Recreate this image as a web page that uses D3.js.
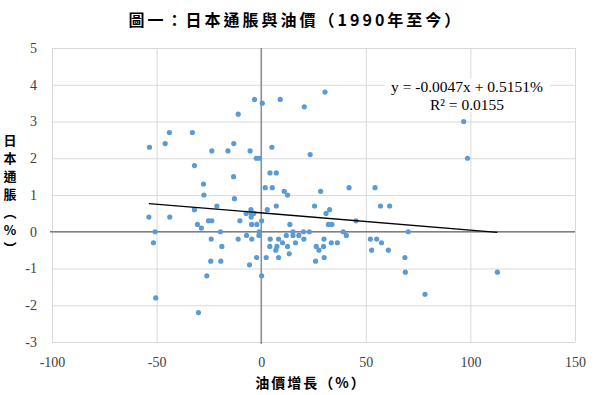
<!DOCTYPE html>
<html><head><meta charset="utf-8">
<script src="https://cdn.jsdelivr.net/npm/d3@7"></script>
<style>body{margin:0;background:#fff}svg{display:block}</style>
</head><body>
<script>
const title = "圖一：日本通脹與油價（1990年至今）";
const xLabel = "油價增長（%）";
const yLabelChars = ["日","本","通","脹","︵","%","︶"];
const xTicks = [-100, -50, 0, 50, 100, 150];
const yTicks = [-3, -2, -1, 0, 1, 2, 3, 4, 5];
const slope = -0.0047, intercept = 0.5151;
const eqText = "y = -0.0047x + 0.5151%";
const r2Text = "R² = 0.0155";
// oil price growth (%)
const oilGrowth = [-3.2,0.5,-11,-43.9,-32.9,-45.9,-13.1,-53.4,-23.6,-15.9,-5.3,-2.4,-0.8,-31.9,-13.2,4.2,-27.6,1.9,-27.4,-12.8,-21.2,
 9.1,20.6,30.5,5.1,23.4,7.2,5.3,11,12.6,28.4,42,54.4,7.2,25.5,57,61.4,96.8,98.6,
 -31.9,-4.9,-53.7,-43.7,2.9,-7.2,-4.8,-3.5,-4.8,-30.5,-25.2,-23.6,-10.2,-4.6,-2.1,0.2,-28.6,-50.7,-19.5,-1,-7,-1.1,-51.5,-23.9,-11,-4.5,4.3,-18.8,4.1,-2.2,2.4,-24.1,-19.3,-5.6,-26,0.2,-50.4,-30,
 32.7,31,13.7,32.1,33.8,45.3,15.2,20.2,23,12,15.2,18,20.4,39.2,40.7,8.3,10.2,16.4,30,33.5,36.4,52.2,55.2,57.5,7.5,12.6,26.3,29.8,7,27.6,52.8,60.8,13.4,8.3,30.1,26,
 70.3,68.7,68.9,112.9,78.3];
// Japan inflation (%)
const inflation = [3.6,3.5,3.2,2.7,2.7,2.4,2.4,2.3,2.2,2.2,2.2,2.0,2.0,1.8,1.5,1.6,1.3,1.2,1.0,0.9,0.7,
 3.6,3.4,3.8,2.3,2.1,1.6,1.2,1.1,1.0,1.1,1.2,1.2,0.7,0.7,0.7,0.7,3.0,2.0,
 0.6,0.6,0.4,0.4,0.6,0.5,0.5,0.5,0.4,0.2,0.3,0.3,0.3,0.2,0.2,0.3,0.1,0,0,0,-0.1,-0.1,-0.3,-0.2,-0.2,-0.2,-0.2,-0.4,-0.4,-0.7,-0.7,-0.8,-0.8,-0.9,-1.2,-1.2,-1.8,-2.2,
 0.6,0.5,0.2,0.2,0.2,0.3,0,0,0,-0.1,-0.1,-0.1,-0.2,0,-0.1,-0.2,-0.3,-0.3,-0.2,-0.3,-0.3,-0.2,-0.2,-0.3,-0.4,-0.4,-0.4,-0.4,-0.5,-0.5,-0.5,-0.5,-0.6,-0.7,-0.7,-0.8,
 0,-0.7,-1.1,-1.1,-1.7];

const W = 600, H = 395;
const L = 52, R = 575, T = 48, B = 342;
const svg = d3.select("body").append("svg").attr("width", W).attr("height", H);
const x = d3.scaleLinear().domain([-100, 150]).range([L, R]);
const y = d3.scaleLinear().domain([-3, 5]).range([B, T]);
const serif = "'Liberation Serif','Times New Roman',serif";
const cjk = "'Noto Sans CJK TC','Noto Sans CJK SC',sans-serif";
const fmt = d => String(d);

// gridlines
svg.append("g").attr("transform", `translate(0,${B})`)
  .call(d3.axisBottom(x).tickValues(xTicks).tickSize(-(B - T)).tickFormat(""))
  .call(g => { g.select(".domain").remove(); g.selectAll("line").attr("stroke", "#d9d9d9"); });
svg.append("g").attr("transform", `translate(${L},0)`)
  .call(d3.axisLeft(y).tickValues(yTicks).tickSize(-(R - L)).tickFormat(""))
  .call(g => { g.select(".domain").remove(); g.selectAll("line").attr("stroke", "#d9d9d9"); });

// zero axes
svg.append("line").attr("x1", L - 2).attr("x2", R).attr("y1", y(0)).attr("y2", y(0))
  .attr("stroke", "#808080").attr("stroke-width", 1.3);
svg.append("line").attr("x1", x(0)).attr("x2", x(0)).attr("y1", T).attr("y2", B + 2)
  .attr("stroke", "#808080").attr("stroke-width", 1.3);

// tick labels
svg.append("g").attr("transform", `translate(0,${B})`)
  .call(d3.axisBottom(x).tickValues(xTicks).tickSize(0).tickPadding(15).tickFormat(fmt))
  .call(g => { g.select(".domain").remove(); g.selectAll("text").attr("font-family", serif).attr("font-size", 14).attr("fill", "#404040"); });
svg.append("g").attr("transform", `translate(${L},0)`)
  .call(d3.axisLeft(y).tickValues(yTicks).tickSize(0).tickPadding(15).tickFormat(fmt))
  .call(g => { g.select(".domain").remove(); g.selectAll("text").attr("font-family", serif).attr("font-size", 14).attr("fill", "#404040"); });

// points
const pts = oilGrowth.map((v, i) => [v, inflation[i]]);
svg.append("g").selectAll("circle").data(pts).join("circle")
  .attr("cx", d => x(d[0])).attr("cy", d => y(d[1])).attr("r", 2.6).attr("fill", "#5b9bd5");

// trendline
const xmin = d3.min(oilGrowth), xmax = d3.max(oilGrowth);
svg.append("line").attr("x1", x(xmin)).attr("y1", y(slope * xmin + intercept))
  .attr("x2", x(xmax)).attr("y2", y(slope * xmax + intercept))
  .attr("stroke", "#000").attr("stroke-width", 1.3);

// equation
svg.append("rect").attr("x", 385).attr("y", 78).attr("width", 165).attr("height", 34).attr("fill", "#fff");
svg.append("text").attr("x", 467).attr("y", 92).attr("text-anchor", "middle")
  .attr("font-family", serif).attr("font-size", 15.5).attr("fill", "#000").text(eqText);
svg.append("text").attr("x", 467).attr("y", 110).attr("text-anchor", "middle")
  .attr("font-family", serif).attr("font-size", 15.5).attr("fill", "#000").text(r2Text);

// title
svg.append("text").attr("x", 296).attr("y", 26).attr("text-anchor", "middle")
  .attr("font-family", cjk).attr("font-weight", "bold").attr("font-size", 16)
  .attr("letter-spacing", 3).attr("fill", "#000").text(title);

// x label
svg.append("text").attr("x", 311).attr("y", 388).attr("text-anchor", "middle")
  .attr("font-family", cjk).attr("font-weight", "bold").attr("font-size", 14)
  .attr("letter-spacing", 2).attr("fill", "#000").text(xLabel);

// y label (vertical)
svg.append("g").selectAll("text").data(yLabelChars).join("text")
  .attr("x", 10).attr("y", (d, i) => 145 + i * 18).attr("text-anchor", "middle")
  .attr("font-family", cjk).attr("font-weight", "bold").attr("font-size", 13).attr("fill", "#000")
  .text(d => d);
</script>
</body></html>
